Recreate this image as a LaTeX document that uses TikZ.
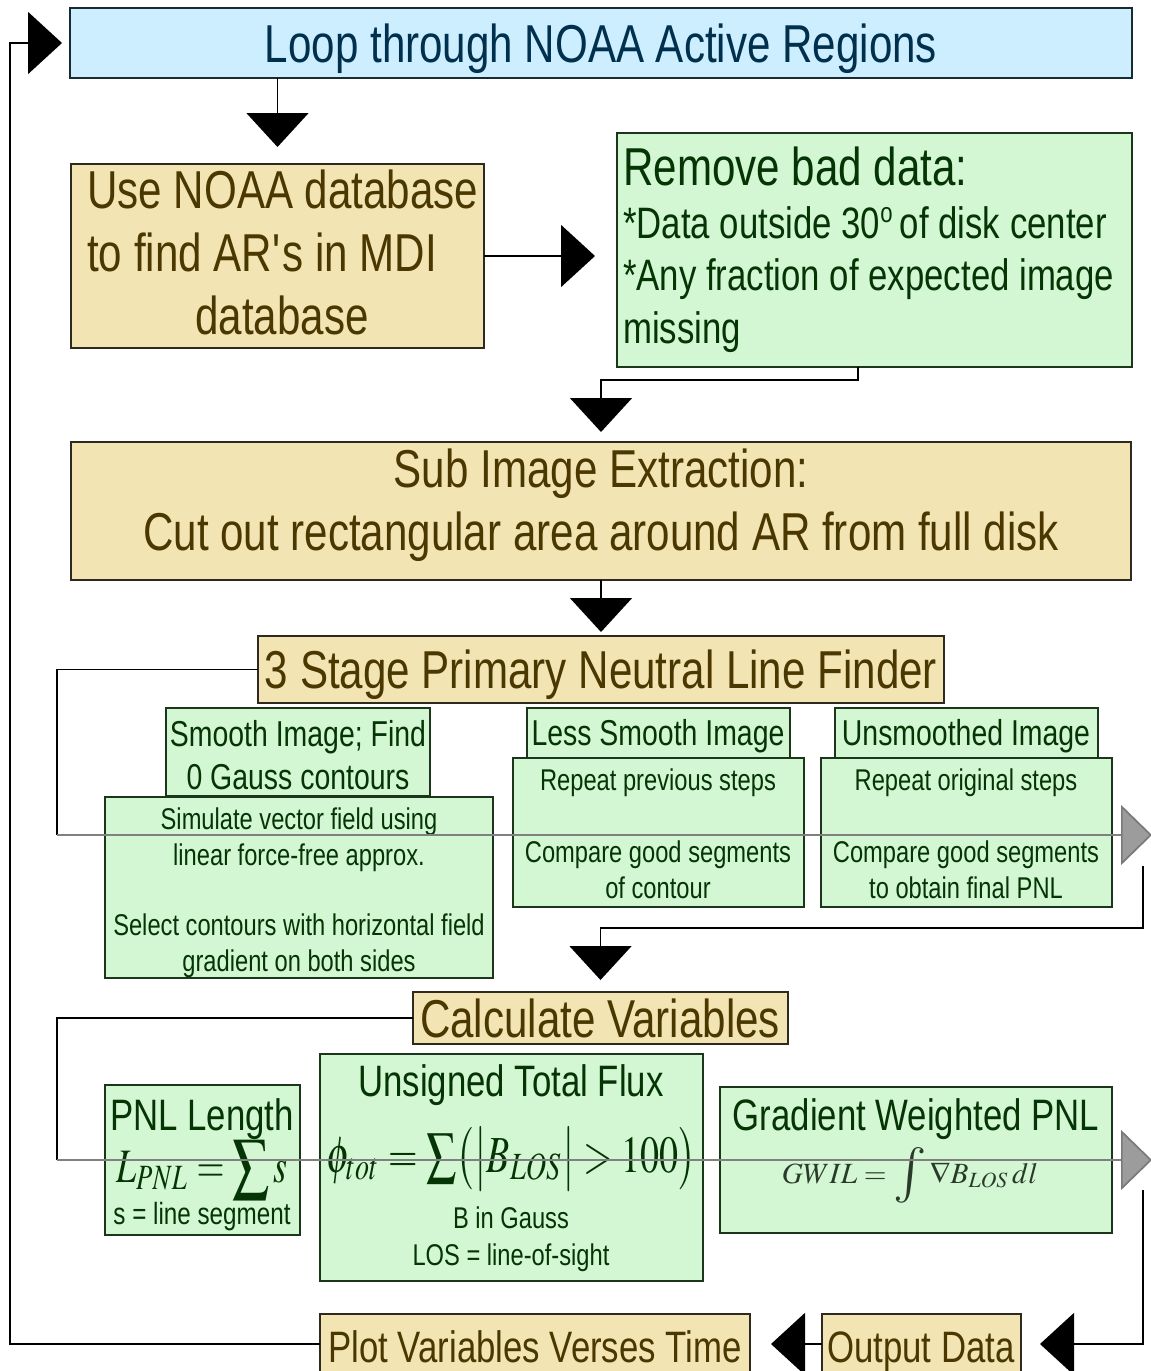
\documentclass[tikz,border=0pt]{standalone}
\usepackage{mathptmx}
\usepackage[no-math]{fontspec}
\usepackage{graphicx}
\setmainfont{Liberation Sans}[FakeStretch=0.79]
\usetikzlibrary{arrows.meta,calc}
\definecolor{tanfill}{HTML}{F3E4B4}
\definecolor{tantext}{HTML}{4A3800}
\definecolor{tanedge}{HTML}{2E2A20}
\definecolor{greenfill}{HTML}{D3F6D3}
\definecolor{greentext}{HTML}{053505}
\definecolor{greenedge}{HTML}{1C361C}
\definecolor{bluefill}{HTML}{CCEEFF}
\definecolor{bluetext}{HTML}{00304D}
\definecolor{blueedge}{HTML}{1A2A33}
\definecolor{linegray}{HTML}{808080}
\definecolor{arrowgray}{HTML}{9C9C9C}
\definecolor{arrowedge}{HTML}{7A7A7A}
\definecolor{formgray}{HTML}{2A3A2A}
\newcommand\fs[2]{\fontsize{#1}{#2}\selectfont}
\newcommand\scsum[1]{\mathop{\vcenter{\hbox{\scalebox{#1}{$\sum$}}}}}
\newcommand\scint[1]{\mathop{\vcenter{\hbox{\scalebox{#1}{$\int$}}}}}
\begin{document}
\begin{tikzpicture}[x=0.75pt,y=-0.75pt,
  box/.style n args={4}{minimum width={(#3-#1)*0.75pt}, minimum height={(#4-#2)*0.75pt},
     inner sep=0pt, outer sep=0pt, at={({(#1+#3)/2},{(#2+#4)/2})}},
  tanbox/.style={draw=tanedge, fill=tanfill, line width=1.3pt},
  greenbox/.style={draw=greenedge, fill=greenfill, line width=1.3pt},
  bluebox/.style={draw=blueedge, fill=bluefill, line width=1.3pt},
  txt/.style={inner sep=0pt, anchor=base},
  tant/.style={txt, text=tantext},
  greent/.style={txt, text=greentext},
  bluet/.style={txt, text=bluetext},
  big/.style={font=\fs{40}{47}},
  mid/.style={font=\fs{33}{40}},
  sub/.style={font=\fs{27}{33}},
  small/.style={font=\fs{22.5}{27}},
  conn/.style={draw=black, line width=1.3pt, -{Triangle[width=46.5pt,length=25.5pt]}},
  plainconn/.style={draw=black, line width=1.3pt},
  grayconn/.style={draw=linegray, line width=1.3pt, -{Triangle[width=45pt,length=23.25pt,fill=arrowgray,color=arrowedge]}}
]
\clip (0,0) rectangle (1151,1371);

% ---------- boxes ----------
\node[bluebox, box={70}{8}{1132}{78}] (loop) {};
\node[tanbox, box={71}{164}{484}{348}] (usenoaa) {};
\node[greenbox, box={617}{133}{1132}{367}] (remove) {};
\node[tanbox, box={71}{442}{1131}{580}] (sub) {};
\node[tanbox, box={258}{636}{944}{703}] (stage) {};
\node[greenbox, box={166}{708}{430}{796}] (smooth) {};
\node[greenbox, box={105}{797}{493}{978}] (simulate) {};
\node[greenbox, box={527}{708}{790}{758}] (less) {};
\node[greenbox, box={513}{758}{804}{907}] (lessb) {};
\node[greenbox, box={835}{708}{1098}{758}] (unsm) {};
\node[greenbox, box={821}{758}{1112}{907}] (unsmb) {};
\node[tanbox, box={413}{992}{788}{1044}] (calcv) {};
\node[greenbox, box={105}{1085}{300}{1235}] (pnl) {};
\node[greenbox, box={320}{1054}{703}{1281}] (flux) {};
\node[greenbox, box={720}{1087}{1112}{1233}] (grad) {};
\node[tanbox, box={822}{1314}{1021}{1374}] (output) {};
\node[tanbox, box={320}{1314}{750}{1374}] (plot) {};

% ---------- texts ----------
\node[bluet, big] (tloop) at (601,62) {Loop through NOAA Active Regions};
\node[tant, big, anchor=base west] (tuse1) at (87,208) {Use NOAA database};
\node[tant, big, anchor=base west] (tuse2) at (87,271) {to find AR\textquotesingle s in MDI};
\node[tant, big] (tuse3) at (282,334) {database};
\node[greent, big, anchor=base west] (trem1) at (623,185) {Remove bad data:};
\node[greent, mid, anchor=base west] (trem2) at (623,238) {*Data outside 30\raisebox{0.36em}{\fs{21}{21}o}\,of disk center};
\node[greent, mid, anchor=base west] (trem3) at (623,290) {*Any fraction of expected image};
\node[greent, mid, anchor=base west] (trem4) at (623,343) {missing};
\node[tant, big] (tsub1) at (601,487) {Sub Image Extraction:};
\node[tant, big] (tsub2) at (601,550) {Cut out rectangular area around AR from full disk};
\node[tant, big] (tstage) at (601,688) {3 Stage Primary Neutral Line Finder};
\node[greent, sub] (tsm1) at (298,746) {Smooth Image; Find};
\node[greent, sub] (tsm2) at (298,789) {0 Gauss contours};
\node[greent, small] (tsi1) at (299,829) {Simulate vector field using};
\node[greent, small] (tsi2) at (299,865) {linear force-free approx.};
\node[greent, small] (tsi3) at (299,935) {Select contours with horizontal field};
\node[greent, small] (tsi4) at (299,971) {gradient on both sides};
\node[greent, sub] (tless) at (658,745) {Less Smooth Image};
\node[greent, small] (tlb1) at (658,790) {Repeat previous steps};
\node[greent, small] (tlb2) at (658,862) {Compare good segments};
\node[greent, small] (tlb3) at (658,898) {of contour};
\node[greent, sub] (tunsm) at (966,745) {Unsmoothed Image};
\node[greent, small] (tub1) at (966,790) {Repeat original steps};
\node[greent, small] (tub2) at (966,862) {Compare good segments};
\node[greent, small] (tub3) at (966,898) {to obtain final PNL};
\node[tant, big] (tcalc) at (600,1037) {Calculate Variables};
\node[greent, mid] (tpnl1) at (202,1130) {PNL Length};
\node[greent] (tpnl2) at (202,1182) {\scalebox{2.7}[3.6]{\fs{10}{12}$L_{PNL}=\scsum{1.45}s$}};
\node[greent, font=\fs{23}{27}] (tpnl3) at (202,1224) {s = line segment};
\node[greent, mid] (tflux1) at (511,1096) {Unsigned Total Flux};
\node[greent] (tflux2) at (511,1172) {\scalebox{2.85}[3.9]{\fs{10}{12}$\phi_{tot}=\scsum{1.12}\bigl(\bigl|B_{LOS}\bigr|>100\bigr)$}};
\node[greent, small] (tflux3) at (511,1228) {B in Gauss};
\node[greent, small] (tflux4) at (511,1265) {LOS = line-of-sight};
\node[greent, mid] (tgrad1) at (916,1130) {Gradient Weighted PNL};
\node[txt, text=formgray] (tgrad2) at (910,1183) {\scalebox{2.2}{\fs{10}{12}$GWIL=\scint{1.9}\nabla B_{LOS}\,dl$}};
\node[tant, mid] (tout) at (921,1362) {Output Data};
\node[tant, mid] (tplot) at (535,1362) {Plot Variables Verses Time};

% ---------- connectors ----------
\draw[conn, shorten >=12.75pt] (usenoaa.north |- loop.south) -- (usenoaa.north);
\draw[conn, shorten >=16.5pt] (usenoaa.east) -- (remove.west |- usenoaa.east);
\draw[conn, shorten >=7.5pt] ([xshift=-12.4pt]remove.south) -- ++(0,13) -| (sub.north);
\draw[conn, shorten >=3pt] (sub.south) -- (stage.north);

\coordinate (lp1) at (57,835);
\coordinate (gp1) at (1152,835);
\draw[plainconn] (stage.west) -| (lp1);
\draw[grayconn] (lp1) -- (gp1);
\coordinate (rp1) at (1143,866);
\draw[conn, shorten >=9pt] (rp1) -- ++(0,62) -| (calcv.north);

\coordinate (lp2) at (57,1160);
\coordinate (gp2) at (1152,1160);
\draw[plainconn] (calcv.west) -| (lp2);
\draw[grayconn] (lp2) -- (gp2);
\coordinate (rp2) at (1143,1190);
\draw[conn, shorten >=14.25pt] (rp2) |- (output.east);
\draw[conn, shorten >=15.75pt] (output.west) -- (plot.east);
\coordinate (lc) at (10,700);
\draw[conn, shorten >=6pt] (plot.west) -| (lc) |- (loop.west);
\end{tikzpicture}
\end{document}
